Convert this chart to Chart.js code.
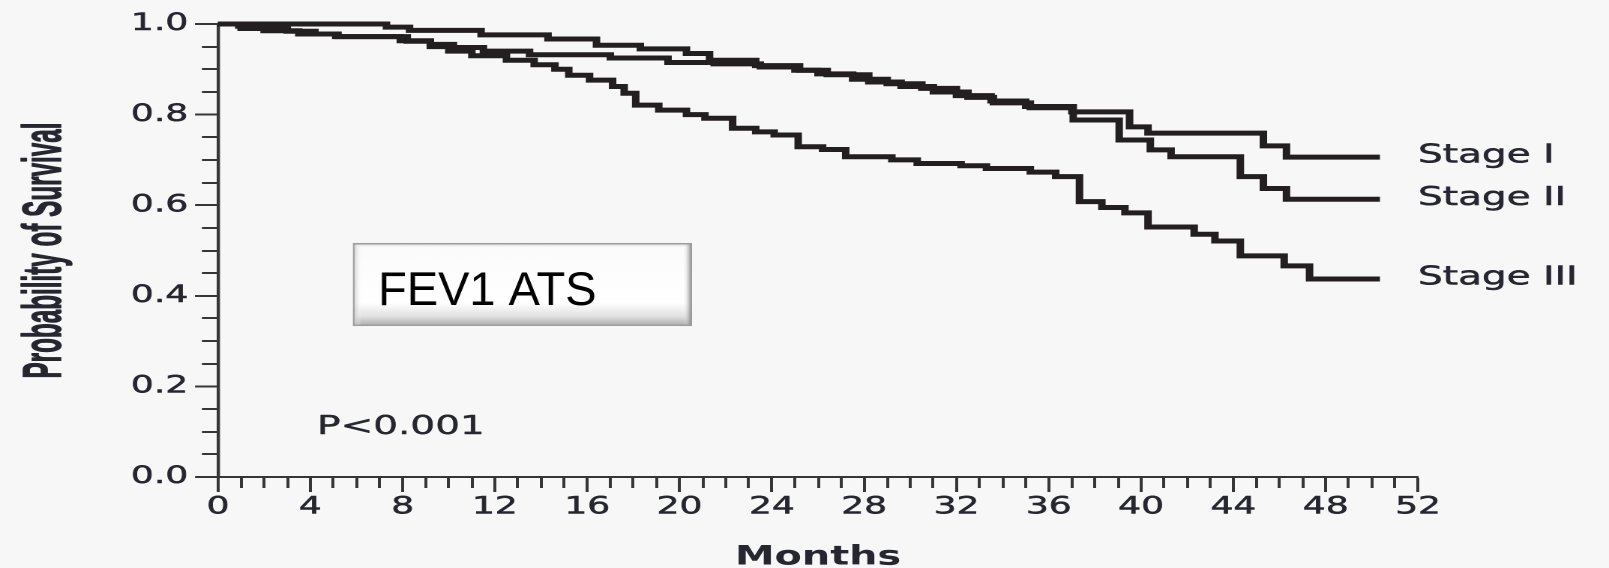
<!DOCTYPE html>
<html>
<head>
<meta charset="utf-8">
<title>FEV1 ATS survival by stage</title>
<script src="https://cdn.jsdelivr.net/npm/chart.js@4.4.1/dist/chart.umd.min.js"></script>
<style>
  html, body { margin: 0; padding: 0; background: #f7f7f7; overflow: hidden; }
  /* the figure is set in a wide, horizontally stretched style */
  #wrap { width: 1073px; height: 568px; transform: scaleX(1.499534); transform-origin: 0 0; }
  canvas { display: block; }
</style>
</head>
<body>
<div id="wrap"><canvas id="km" width="1073" height="568" style="width:1073px;height:568px"></canvas></div>
<script>
// ---- data -------------------------------------------------------------
const seriesNames = ['Stage I', 'Stage II', 'Stage III'];

// Kaplan-Meier steps: month of each drop and the survival after it
const stage1Months = [0, 7.3, 8.3, 11.4, 14.3, 16.4, 18.3, 20.3, 21.3, 23.3, 25.2, 26.4, 28.2, 29.6, 31.0, 32.5, 33.6, 35.2, 37.0, 39.5, 40.3, 45.3, 46.3, 50.35];
const stage1Surv   = [1.0, 0.993, 0.986, 0.976, 0.967, 0.953, 0.945, 0.935, 0.92, 0.908, 0.898, 0.888, 0.872, 0.862, 0.85, 0.838, 0.826, 0.815, 0.806, 0.773, 0.759, 0.731, 0.706, 0.706];

const stage2Months = [0, 0.9, 2.0, 3.0, 4.2, 5.1, 8.2, 9.2, 10.2, 11.5, 13.5, 17.0, 19.5, 21.5, 23.5, 25.0, 26.0, 27.5, 29.0, 30.5, 32.0, 33.5, 35.0, 37.06, 39.05, 40.4, 41.3, 44.3, 45.3, 46.3, 50.35];
const stage2Surv   = [1.0, 0.995, 0.99, 0.984, 0.978, 0.972, 0.962, 0.955, 0.948, 0.94, 0.932, 0.925, 0.915, 0.912, 0.905, 0.898, 0.89, 0.878, 0.868, 0.858, 0.842, 0.83, 0.818, 0.788, 0.744, 0.722, 0.707, 0.663, 0.637, 0.613, 0.613];

const stage3Months = [0, 1, 2, 3.5, 5.2, 7.9, 9.2, 10, 11, 12.5, 13.7, 14.6, 15.2, 16.1, 17.1, 17.6, 18.1, 19.1, 20.3, 21.1, 22.3, 23.3, 24.1, 25.14, 26.2, 27.2, 29.2, 30.3, 32.2, 33.3, 35.2, 36.3, 37.33, 38.3, 39.3, 40.3, 42.3, 43.2, 44.3, 46.2, 47.3, 50.35];
const stage3Surv   = [1.0, 0.99, 0.985, 0.978, 0.972, 0.963, 0.95, 0.94, 0.93, 0.92, 0.91, 0.9, 0.887, 0.876, 0.862, 0.847, 0.821, 0.81, 0.8, 0.792, 0.77, 0.762, 0.755, 0.729, 0.723, 0.707, 0.70, 0.692, 0.687, 0.681, 0.673, 0.663, 0.608, 0.595, 0.583, 0.552, 0.536, 0.521, 0.488, 0.466, 0.437, 0.437];

// axis ticks
const monthTickLabels = ['0', '4', '8', '12', '16', '20', '24', '28', '32', '36', '40', '44', '48', '52'];
const survTickLabels  = ['0.0', '0.2', '0.4', '0.6', '0.8', '1.0'];

const pValueText = 'P<0.001';
const panelLabel = 'FEV1 ATS';

// ---- presentation ------------------------------------------------------
const STRETCH = 1609 / 1073;
const INK = '#231f20';
const AXIS = '#363636';
const TEXT = '#262630';

function toPoints(xs, ys) { return xs.map((x, i) => ({ x: x, y: ys[i] })); }

const stepStyle = {
  borderColor: INK, borderWidth: 5, pointRadius: 0, fill: false,
  stepped: 'before', tension: 0, clip: false, borderCapStyle: 'butt', borderJoinStyle: 'miter'
};

const datasets = [
  Object.assign({ label: seriesNames[0], data: toPoints(stage1Months, stage1Surv) }, stepStyle),
  Object.assign({ label: seriesNames[1], data: toPoints(stage2Months, stage2Surv) }, stepStyle),
  Object.assign({ label: seriesNames[2], data: toPoints(stage3Months, stage3Surv) }, stepStyle)
];

const isMajorMonth = v => monthTickLabels.indexOf(String(v)) !== -1;

// text with a slightly heavier stroke, as in the printed figure
function heavyText(ctx, str, x, y, weight) {
  ctx.lineWidth = weight;
  ctx.strokeStyle = ctx.fillStyle;
  ctx.lineJoin = 'round';
  ctx.strokeText(str, x, y);
  ctx.fillText(str, x, y);
}

// short minor tick marks, the y-axis title and the in-plot text
const decorations = {
  id: 'decorations',
  afterDraw(chart) {
    const ctx = chart.ctx;
    const xs = chart.scales.x, ys = chart.scales.y;
    const area = chart.chartArea;

    // minor ticks
    ctx.save();
    ctx.strokeStyle = AXIS;
    ctx.lineWidth = 2;
    ctx.beginPath();
    for (let m = 0; m <= 52; m++) {
      if (isMajorMonth(m)) continue;
      const px = Math.round(xs.getPixelForValue(m));
      ctx.moveTo(px, area.bottom);
      ctx.lineTo(px, area.bottom + 11);
    }
    for (let k = 0; k <= 20; k++) {
      if (k % 4 === 0) continue;
      const py = Math.round(ys.getPixelForValue(k * 0.05));
      ctx.moveTo(area.left - 10.7, py);
      ctx.lineTo(area.left, py);
    }
    ctx.stroke();
    ctx.restore();

    // y-axis title, condensed bold
    ctx.save();
    const title = 'Probability of Survival';
    ctx.font = 'bold 36px "Liberation Sans", Arial, sans-serif';
    const w = ctx.measureText(title).width;
    ctx.translate(40.5, (area.top + area.bottom) / 2);
    ctx.rotate(-Math.PI / 2);
    ctx.scale(256 / w, 1);
    ctx.fillStyle = TEXT;
    ctx.textAlign = 'center';
    ctx.textBaseline = 'alphabetic';
    heavyText(ctx, title, 0, 0, 0.8);
    ctx.restore();

    // stage labels at the right end of each curve
    ctx.save();
    ctx.font = '26px "DejaVu Sans", sans-serif';
    ctx.fillStyle = TEXT;
    ctx.textAlign = 'left';
    ctx.textBaseline = 'alphabetic';
    const ends = [stage1Surv, stage2Surv, stage3Surv].map(a => a[a.length - 1]);
    seriesNames.forEach((name, i) => {
      heavyText(ctx, name, area.right, ys.getPixelForValue(ends[i]) + 5.5, 0.5);
    });
    // p value
    ctx.font = '26px "DejaVu Sans", sans-serif';
    heavyText(ctx, pValueText, xs.getPixelForValue(4.29), ys.getPixelForValue(0.095), 0.4);
    ctx.restore();

    // panel label box, drawn in unstretched proportions
    ctx.save();
    ctx.scale(1 / STRETCH, 1);
    const bx = xs.getPixelForValue(5.85) * STRETCH;
    const bx2 = xs.getPixelForValue(20.54) * STRETCH;
    const by = ys.getPixelForValue(0.5166);
    const by2 = ys.getPixelForValue(0.3333);
    const bw = bx2 - bx, bh = by2 - by;
    let g = ctx.createLinearGradient(0, by, 0, by2);
    g.addColorStop(0, '#d4d4d4');
    g.addColorStop(0.05, '#fbfbfb');
    g.addColorStop(0.72, '#ffffff');
    g.addColorStop(0.88, '#e2e2e2');
    g.addColorStop(1, '#ababab');
    ctx.fillStyle = g;
    ctx.fillRect(bx, by, bw, bh);
    g = ctx.createLinearGradient(bx, 0, bx + 9, 0);
    g.addColorStop(0, 'rgba(185,185,185,0.85)');
    g.addColorStop(1, 'rgba(255,255,255,0)');
    ctx.fillStyle = g;
    ctx.fillRect(bx, by, 9, bh);
    g = ctx.createLinearGradient(bx2 - 9, 0, bx2, 0);
    g.addColorStop(0, 'rgba(255,255,255,0)');
    g.addColorStop(1, 'rgba(110,110,110,0.95)');
    ctx.fillStyle = g;
    ctx.fillRect(bx2 - 9, by, 9, bh);
    ctx.strokeStyle = '#9e9e9e';
    ctx.lineWidth = 1.5;
    ctx.strokeRect(bx + 0.75, by + 0.75, bw - 1.5, bh - 1.5);
    ctx.font = '47px "Liberation Sans", Arial, sans-serif';
    ctx.fillStyle = '#000000';
    ctx.textAlign = 'left';
    ctx.textBaseline = 'alphabetic';
    ctx.fillText(panelLabel, bx + 25, by + 62);
    ctx.restore();
  }
};

new Chart(document.getElementById('km'), {
  type: 'line',
  data: { datasets: datasets },
  options: {
    responsive: false,
    animation: false,
    devicePixelRatio: 2,
    layout: { padding: { left: 0, top: 24, right: 127.37, bottom: 0 } },
    plugins: { legend: { display: false }, tooltip: { enabled: false } },
    scales: {
      x: {
        type: 'linear', min: 0, max: 52,
        afterFit(scale) { scale.height = 91; },
        ticks: {
          stepSize: 1, autoSkip: false, maxRotation: 0, padding: 1,
          color: TEXT, textStrokeColor: TEXT, textStrokeWidth: 0.5,
          font: { family: '"DejaVu Sans", sans-serif', size: 24 },
          callback: v => (isMajorMonth(v) ? String(v) : '')
        },
        grid: {
          drawOnChartArea: false, drawTicks: true, tickLength: 15, tickWidth: 2,
          tickColor: c => (c.tick && isMajorMonth(c.tick.value) ? AXIS : 'rgba(0,0,0,0)')
        },
        border: { display: true, color: AXIS, width: 2 },
        title: {
          display: true, text: 'Months', color: TEXT, padding: 0,
          font: { family: '"DejaVu Sans", sans-serif', size: 26.5, weight: 'bold', lineHeight: 0.8 }
        }
      },
      y: {
        type: 'linear', min: 0, max: 1,
        afterFit(scale) { scale.width = 145.38; },
        ticks: {
          stepSize: 0.05, autoSkip: false, padding: 4.6,
          color: TEXT, textStrokeColor: TEXT, textStrokeWidth: 0.5,
          font: { family: '"DejaVu Sans", sans-serif', size: 24 },
          callback: v => {
            const k = Math.round(v * 20);
            return k % 4 === 0 ? survTickLabels[k / 4] : '';
          }
        },
        grid: {
          drawOnChartArea: false, drawTicks: true, tickLength: 15.3, tickWidth: 2,
          tickColor: c => (c.tick && Math.round(c.tick.value * 20) % 4 === 0 ? AXIS : 'rgba(0,0,0,0)')
        },
        border: { display: true, color: AXIS, width: 2.2 }
      }
    }
  },
  plugins: [decorations]
});
</script>
</body>
</html>
